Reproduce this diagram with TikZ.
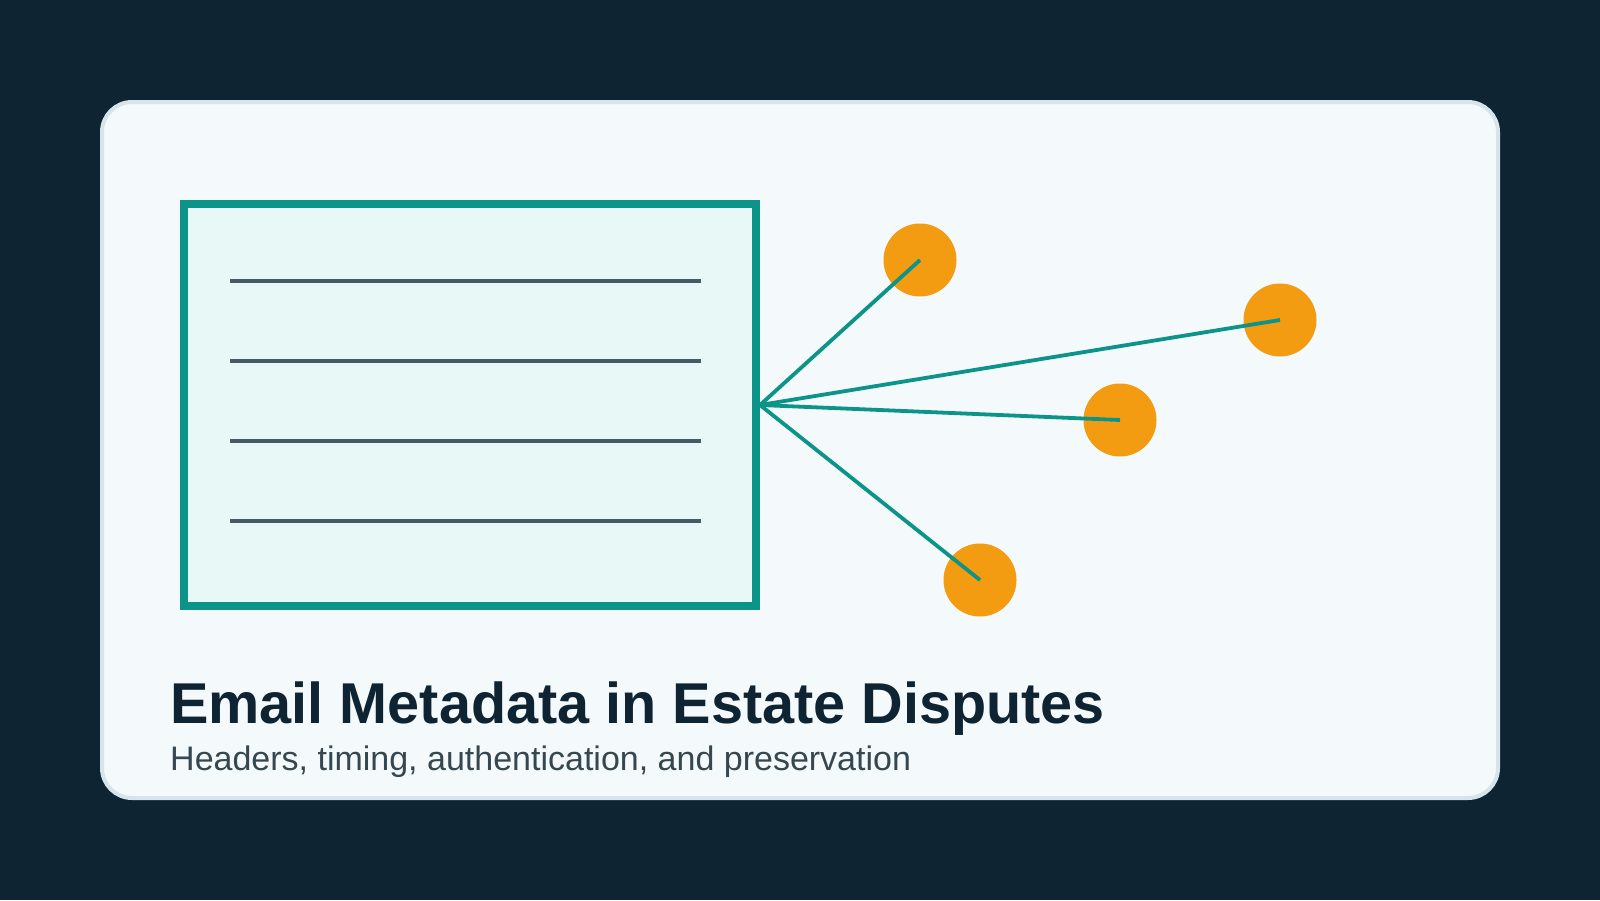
\documentclass[tikz,border=0pt]{standalone}
\usepackage{fontspec}
\setmainfont{Liberation Sans}
\definecolor{bgnavy}{HTML}{0F2433}
\definecolor{cardfill}{HTML}{F4F9FC}
\definecolor{cardline}{HTML}{D6E4EB}
\definecolor{docfill}{HTML}{E8F8F6}
\definecolor{teal}{HTML}{0D9488}
\definecolor{slate}{HTML}{455A64}
\definecolor{orangec}{HTML}{F39C12}
\definecolor{subtxt}{HTML}{37474F}
\tikzset{
  card/.style={fill=cardfill, draw=cardline, line width=4pt, rounded corners=30pt},
  docbox/.style={fill=docfill, draw=teal, line width=8pt},
  docline/.style={draw=slate, line width=4pt},
  dot/.style={circle, fill=orangec, minimum size=73pt, inner sep=0pt, outer sep=0pt},
  spoke/.style={draw=teal, line width=3.8pt},
  titletxt/.style={anchor=base west, inner sep=0pt, text=bgnavy, font=\fontsize{57.6pt}{60pt}\selectfont\bfseries},
  subtitletxt/.style={anchor=base west, inner sep=0pt, text=subtxt, font=\fontsize{34pt}{36pt}\selectfont},
}
\begin{document}
\begin{tikzpicture}[x=1pt,y=-1pt]
\fill[bgnavy] (0,0) rectangle (1600,900);
\useasboundingbox (0,0) rectangle (1600,900);
\path[card] (102,102) rectangle (1498,798);
\path[docbox] (184,204) rectangle (756,606);
\foreach \yy/\nm in {281/l1,361/l2,441/l3,521/l4}{
  \coordinate (\nm a) at (230,\yy);
  \coordinate (\nm b) at (701,\yy);
  \draw[docline] (\nm a) -- (\nm b);
}
\coordinate (hub) at (760,405);
\node[dot] (c1) at (920,260) {};
\node[dot] (c2) at (1280,320) {};
\node[dot] (c3) at (1120,420) {};
\node[dot] (c4) at (980,580) {};
\foreach \c in {c1,c2,c3,c4}{
  \draw[spoke] (hub) -- (\c.center);
}
\node[titletxt] (title) at (170,723) {Email Metadata in Estate Disputes};
\node[subtitletxt] (subtitle) at (170,770) {Headers, timing, authentication, and preservation};
\end{tikzpicture}
\end{document}
